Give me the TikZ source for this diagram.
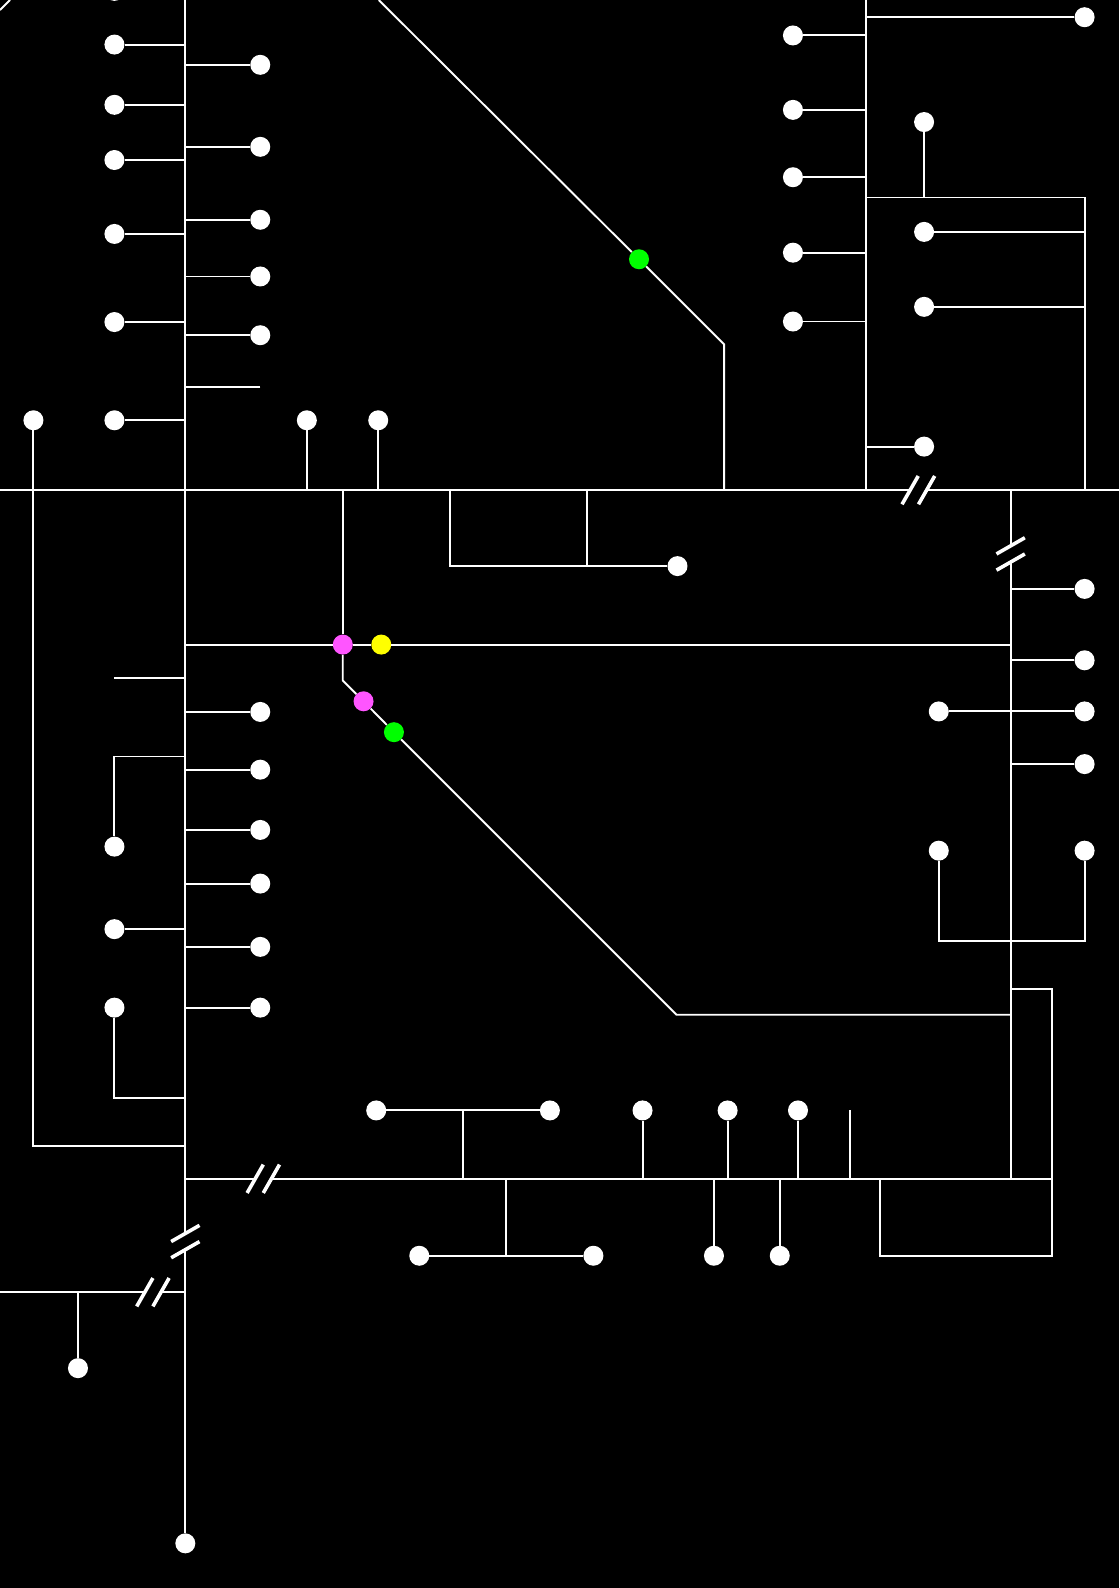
\documentclass[tikz,border=0pt]{standalone}
\tikzset{
  wdot/.style={circle,fill=white,draw=none,inner sep=0pt,minimum size=20pt},
  mdot/.style={wdot,fill=magdot},
  ydot/.style={wdot,fill=yeldot},
  gdot/.style={wdot,fill=grndot},
  wire/.style={draw=white,line width=1.9pt,line join=miter},
  tickup/.style={draw=white,line width=3.6pt},
}
\definecolor{magdot}{RGB}{255,85,255}
\definecolor{yeldot}{RGB}{255,255,0}
\definecolor{grndot}{RGB}{0,255,0}
\begin{document}
\begin{tikzpicture}[x=1.01267pt,y=-1.01267pt]
\fill[black] (0,0) rectangle (1105,1568.1);
\clip (0,0) rectangle (1105,1568.1);
% left column dots upper
\foreach \n/\y in {a0/-9,a1/44,a2/103.5,a3/158,a4/231,a5/318,a6/415,a7/917.5}
  \node[wdot] (\n) at (113,\y) {};
\foreach \n/\y in {b1/64,b2/145,b3/217,b4/273,b5/331,b6/703,b7/760,b8/819.5,b9/872.5,b10/935,b11/995}
  \node[wdot] (\n) at (257,\y) {};
\foreach \n/\y in {c1/35,c2/108.5,c3/175,c4/249.5,c5/317.5}
  \node[wdot] (\n) at (783,\y) {};
\foreach \n/\x/\y in {
  far/33/415, up1/303/415, up2/373.5/415,
  top/1071/17, d1/912.5/120.5, d2/912.5/229, d3/912.5/303, d4/912.5/441,
  box/669/559,
  e1/1071/581.5, e2/1071/652, e3/1071/702.5, e4/927/702.5, e5/1071/754.5,
  f1/927/840, f2/1071/840,
  l1/113/836, l2/113/995,
  g1/371.5/1096.5, g2/543/1096.5, g3/634.5/1096.5, g4/718.5/1096.5, g5/788/1096.5,
  h1/414/1240, h2/586/1240, h3/705/1240, h4/770/1240,
  foot/77/1351, end/183/1524}
  \node[wdot] (\n) at (\x,\y) {};
\node[gdot] (green1) at (631,256) {};
\node[mdot] (mag1) at (338.5,636.5) {};
\node[ydot] (yel1) at (376.5,636.5) {};
\node[mdot] (mag2) at (359,692.5) {};
\node[gdot] (green2) at (389,723) {};
% named junctions
\coordinate (Ttop) at (183,0);
\coordinate (Tbus) at (183,484);
\coordinate (Tbrk1) at (183,1218);
\coordinate (Tbrk2) at (183,1234);
\coordinate (Rtop) at (855,0);
\coordinate (Rbus) at (855,484);
\coordinate (Bl) at (0,484);
\coordinate (Br) at (1105,484);
\coordinate (Bb1) at (898.7,484);
\coordinate (Bb2) at (915,484);
\coordinate (Vtop) at (998,484);
\coordinate (Vb1) at (998,539);
\coordinate (Vb2) at (998,555);
\coordinate (Vbot) at (998,1164);
\coordinate (Ll) at (183,1164);
\coordinate (Lb1) at (252,1164);
\coordinate (Lb2) at (268,1164);
\coordinate (Lr) at (1039,1164);
\coordinate (Ml) at (0,1276);
\coordinate (Mb1) at (143,1276);
\coordinate (Mb2) at (159,1276);
\coordinate (Mr) at (183,1276);
\coordinate (MT) at (77,1276);
\coordinate (cornerTL) at (0,9.9);
\coordinate (cornerTR) at (9.9,0);
\coordinate (diagTop) at (374,0);
\coordinate (diagKnee) at (715,340);
\coordinate (diagFoot) at (715,484);
\coordinate (stubA) at (257,382.5);
\coordinate (stubB) at (113,669.5);
\coordinate (Cx) at (338.5,484);
\coordinate (Cknee) at (338.5,672);
\coordinate (Dknee) at (668,1002);
\coordinate (Dend) at (998,1002);
\coordinate (Ht) at (183,636.5);
\coordinate (Hr) at (998,636.5);
\coordinate (boxA) at (444,484);
\coordinate (boxB) at (444,559);
\coordinate (boxC) at (580,484);
\coordinate (boxD) at (580,559);
\coordinate (rb1) at (855,195);
\coordinate (rb2) at (1071,195);
\coordinate (rb3) at (1071,484);
\coordinate (rb4) at (998,977);
\coordinate (rb5) at (1039,977);
\coordinate (rb6) at (1039,1240);
\coordinate (rb7) at (869,1240);
\coordinate (rb8) at (869,1164);
\coordinate (u1) at (927,929);
\coordinate (u2) at (1071,929);
\coordinate (ll1) at (113,747);
\coordinate (ll2) at (113,1084);
\coordinate (ll3) at (33,1132);
\coordinate (g12) at (457,1096.5);
\coordinate (g12b) at (457,1164);
\coordinate (h12) at (500,1240);
\coordinate (h12b) at (500,1164);
\coordinate (stubC) at (839,1096.5);
% main lines
\draw[wire] (Ttop) -- (Tbrk1) (Tbrk2) -- (end);
\draw[wire] (Rtop) -- (Rbus);
\draw[wire] (Bl) -- (Bb1) (Bb2) -- (Br);
\draw[wire] (Vtop) -- (Vb1) (Vb2) -- (Vbot);
\draw[wire] (Ll) -- (Lb1) (Lb2) -- (Lr);
\draw[wire] (Ml) -- (Mb1) (Mb2) -- (Mr);
\draw[wire] (MT) -- (foot);
\draw[wire] (cornerTL) -- (cornerTR);
\draw[wire] (diagTop) -- (green1);
\draw[wire] (green1) -- (diagKnee) -- (diagFoot);
% stubs on trunk
\foreach \n in {a1,a2,a3,a4,a5,a6,a7,b1,b2,b3,b4,b5,b6,b7,b8,b9,b10,b11,stubA,stubB}
  \draw[wire] (\n) -- (\n -| Ttop);
\foreach \n in {c1,c2,c3,c4,c5,top,d4}
  \draw[wire] (\n) -- (\n -| Rtop);
\foreach \n in {up1,up2}
  \draw[wire] (\n) -- (\n |- Tbus);
\foreach \n in {d2,d3}
  \draw[wire] (\n) -- (\n -| rb2);
\draw[wire] (d1) -- (d1 |- rb1);
\draw[wire] (rb1) -- (rb2) -- (rb3);
% centre
\draw[wire] (Cx) -- (mag1);
\draw[wire] (mag1) -- (Cknee) -- (mag2);
\draw[wire] (mag2) -- (green2);
\draw[wire] (green2) -- (Dknee) -- (Dend);
\draw[wire] (Ht) -- (mag1);
\draw[wire] (mag1) -- (yel1);
\draw[wire] (yel1) -- (Hr);
\draw[wire] (boxA) -- (boxB) -- (box);
\draw[wire] (boxC) -- (boxD);
% right
\foreach \n in {e1,e2,e3,e4,e5}
  \draw[wire] (\n) -- (\n -| Vtop);
\draw[wire] (f1) -- (u1) -- (u2) -- (f2);
\draw[wire] (rb4) -- (rb5) -- (rb6) -- (rb7) -- (rb8);
% left lower
\draw[wire] (l1) -- (ll1) -- (ll1 -| Ttop);
\draw[wire] (l2) -- (ll2) -- (ll2 -| Ttop);
\draw[wire] (far) -- (ll3) -- (ll3 -| Ttop);
% bottom
\draw[wire] (g1) -- (g2);
\draw[wire] (g12) -- (g12b);
\draw[wire] (h1) -- (h2);
\draw[wire] (h12) -- (h12b);
\foreach \n in {g3,g4,g5,stubC,h3,h4}
  \draw[wire] (\n) -- (\n |- Ll);
% break ticks
\foreach \c in {Bb1,Bb2,Lb1,Lb2,Mb1,Mb2}
  \draw[tickup] ([shift={(-8,14)}]\c) -- ([shift={(8,-14)}]\c);
\foreach \c in {Vb1,Vb2,Tbrk1,Tbrk2}
  \draw[tickup] ([shift={(-14,8)}]\c) -- ([shift={(14,-8)}]\c);
\end{tikzpicture}
\end{document}
